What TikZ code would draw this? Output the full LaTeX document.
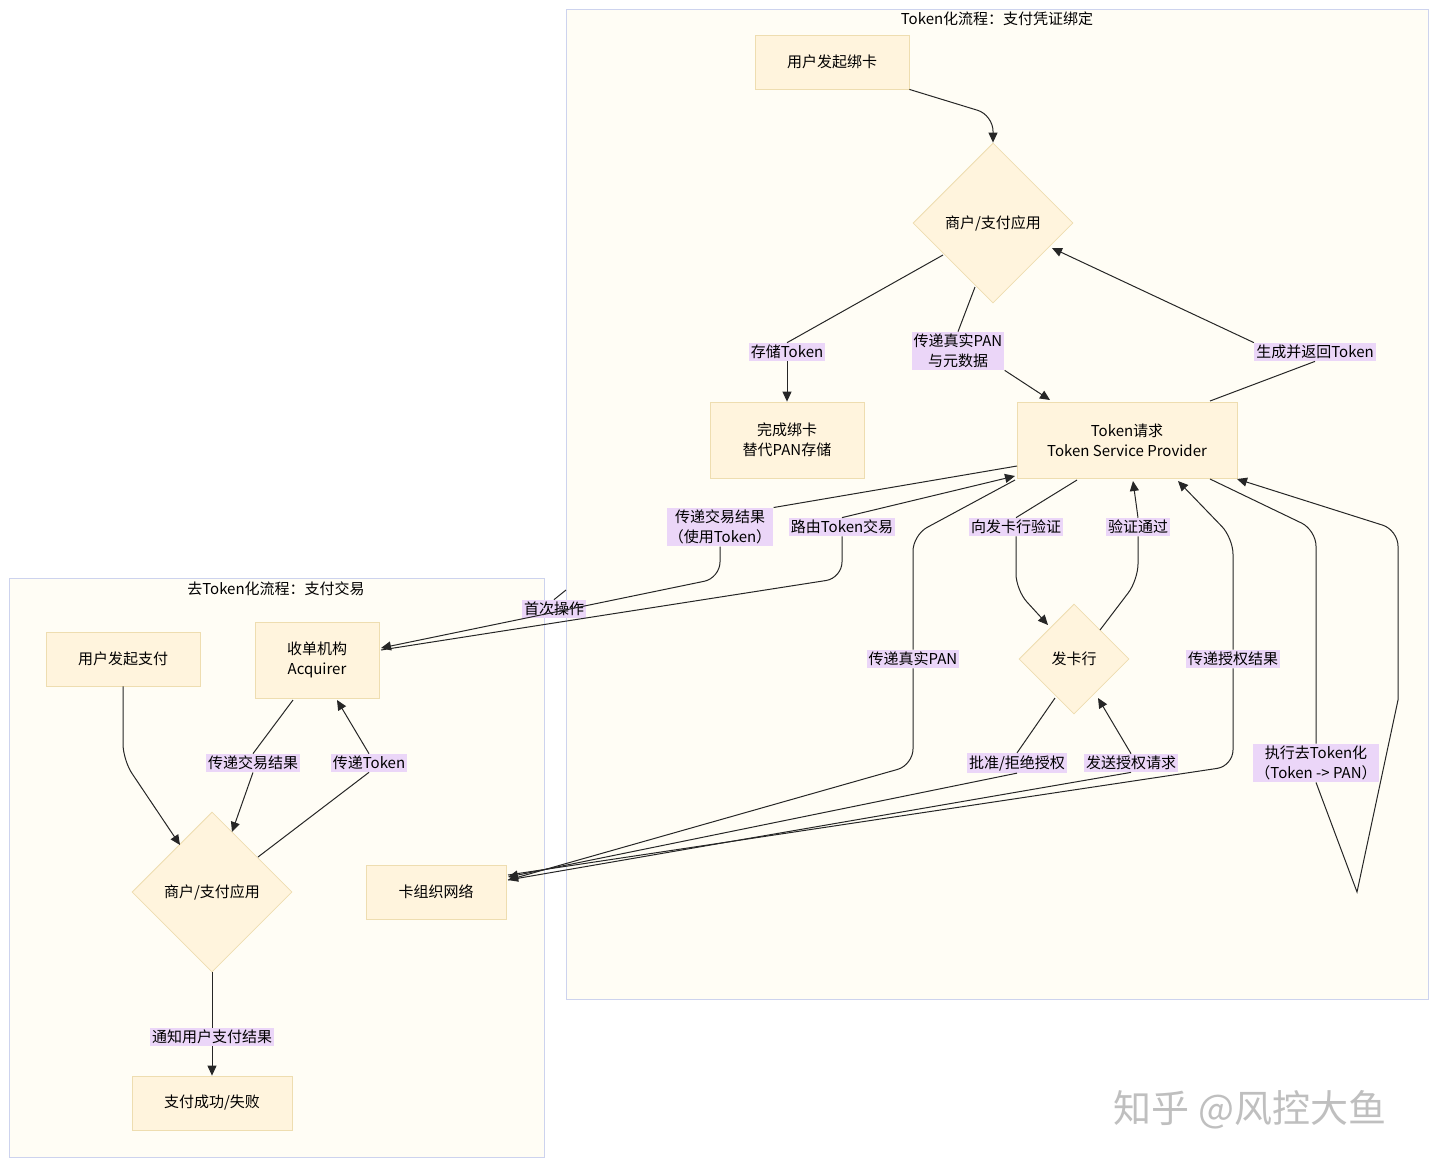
\documentclass[tikz,border=0pt]{standalone}
\usepackage{fontspec}
\setmainfont{Noto Sans CJK SC}
\usetikzlibrary{shapes.geometric,arrows.meta}
\definecolor{nfill}{HTML}{FFF4DD}
\definecolor{nline}{HTML}{EEDDB0}
\definecolor{cfill}{HTML}{FFFDF5}
\definecolor{cline}{HTML}{CDD3EE}
\definecolor{lbl}{HTML}{EBD6F8}
\begin{document}
\begin{tikzpicture}[x=0.5pt,y=-0.5pt,font=\fontsize{7.5}{10}\selectfont,
 box/.style={draw=nline,fill=nfill,line width=0.4pt,align=center,inner sep=0pt},
 dia/.style={draw=nline,fill=nfill,diamond,aspect=1,inner sep=0pt,minimum size=#1},
 lab/.style={fill=lbl,inner sep=1pt,align=center},
 e/.style={draw=black!85,line width=0.5pt,rounded corners=8pt},
 a/.style={e,-{Triangle[length=5pt,width=4.5pt]}},
 cl/.style={draw=cline,fill=cfill,line width=0.5pt}]
\useasboundingbox (0,0) rectangle (1440,1169);
\fill[white] (0,0) rectangle (1440,1169);
\draw[cl] (566,9) rectangle (1428,999);
\node (t1) at (997,19) {Token化流程：支付凭证绑定};
\draw[cl] (9,578) rectangle (544,1157);
\node (t2) at (276,589) {去Token化流程：支付交易};
% nodes
\node[box,minimum width=77pt,minimum height=27pt] (ub) at (832,62) {用户发起绑卡};
\node[dia=80pt] (m1) at (993,223) {商户/支付应用};
\node[box,minimum width=77pt,minimum height=38pt] (done) at (787,440) {完成绑卡\\替代PAN存储};
\node[box,minimum width=110pt,minimum height=38pt] (tsp) at (1127,440) {Token请求\\Token Service Provider};
\node[dia=55pt] (iss) at (1074,659) {发卡行};
\node[box,minimum width=77pt,minimum height=27pt] (up) at (123,659) {用户发起支付};
\node[box,minimum width=62pt,minimum height=38pt] (acq) at (317,660) {收单机构\\Acquirer};
\node[dia=80pt] (m2) at (212,892) {商户/支付应用};
\node[box,minimum width=70pt,minimum height=27pt] (net) at (436,892) {卡组织网络};
\node[box,minimum width=80pt,minimum height=27pt] (res) at (212,1103) {支付成功/失败};
% label nodes
\node[lab] (l1) at (787,352) {存储Token};
\node[lab] (l2) at (958,351) {传递真实PAN\\与元数据};
\node[lab] (l3) at (1315,352) {生成并返回Token};
\node[lab] (l4) at (720,527) {传递交易结果\\（使用Token）};
\node[lab] (l5) at (842,527) {路由Token交易};
\node[lab] (l6) at (554,609) {首次操作};
\node[lab] (l7) at (1016,527) {向发卡行验证};
\node[lab] (l8) at (1138,527) {验证通过};
\node[lab] (l9) at (913,659) {传递真实PAN};
\node[lab] (l10) at (1017,763) {批准/拒绝授权};
\node[lab] (l11) at (1131,763) {发送授权请求};
\node[lab] (l12) at (1233,659) {传递授权结果};
\node[lab] (l13) at (1316,763) {执行去Token化\\（Token -> PAN）};
\node[lab] (l14) at (253,763) {传递交易结果};
\node[lab] (l15) at (369,763) {传递Token};
\node[lab] (l16) at (212,1037) {通知用户支付结果};
\coordinate (lp) at (1357,892);
\coordinate (cb) at (566,590);
% edges
\draw[a] (ub.south east) -- (993,115) -- (m1.north);
\draw[e] (943,255) -- (l1.north);
\draw[a] (l1.south) -- (done.north);
\draw[e] (975,287) -- (l2.north);
\draw[a] (l2.south east) -- (1050,400);
\draw[e] (1210,401) -- (l3.south);
\draw[a] (l3.north west) -- (1052,248);
\draw[e] (1017,466) -- (l4.north east);
\draw[a] (l4.south) -- (720,578) -- (381,648);
\draw[e] (381,650) -- (842,578) -- (l5.south);
\draw[a] (l5.north) -- (1015,476);
\draw[e] (cb) -- (l6.north);
\draw[e] (1077,480) -- (l7.north);
\draw[a] (l7.south) -- (1016,590) -- (1048,625);
\draw[e] (1100,630) -- (1138,580) -- (l8.south);
\draw[a] (l8.north) -- (1133,481);
\draw[e] (1015,480) -- (913,535) -- (l9.north);
\draw[a] (l9.south) -- (913,765) -- (508,880);
\draw[e] (1055,698) -- (l10.north);
\draw[a] (l10.south) -- (508,877);
\draw[e] (508,880) -- (l11.south);
\draw[a] (l11.north) -- (1098,698);
\draw[e] (508,875) -- (1233,766) -- (l12.south);
\draw[a] (l12.north) -- (1233,538) -- (1178,481);
\draw[e] (1210,479) -- (1316,530) -- (l13.north);
\draw[e,rounded corners=0pt] (l13.south) -- (lp) -- (1398,700);
\draw[a] (1398,700) -- (1398,530) -- (1237,479);
\draw[a] (up.south) -- (123,760) -- (180,845);
\draw[e] (293,700) -- (l14.north);
\draw[a] (l14.south) -- (232,832);
\draw[e] (258,857) -- (l15.south);
\draw[a] (l15.north) -- (337,700);
\draw[e] (m2.south) -- (l16.north);
\draw[a] (l16.south) -- (res.north);
\node[text=black!25,font=\fontsize{19}{22}\selectfont] (wm) at (1250,1110) {知乎 @风控大鱼};
\end{tikzpicture}
\end{document}
